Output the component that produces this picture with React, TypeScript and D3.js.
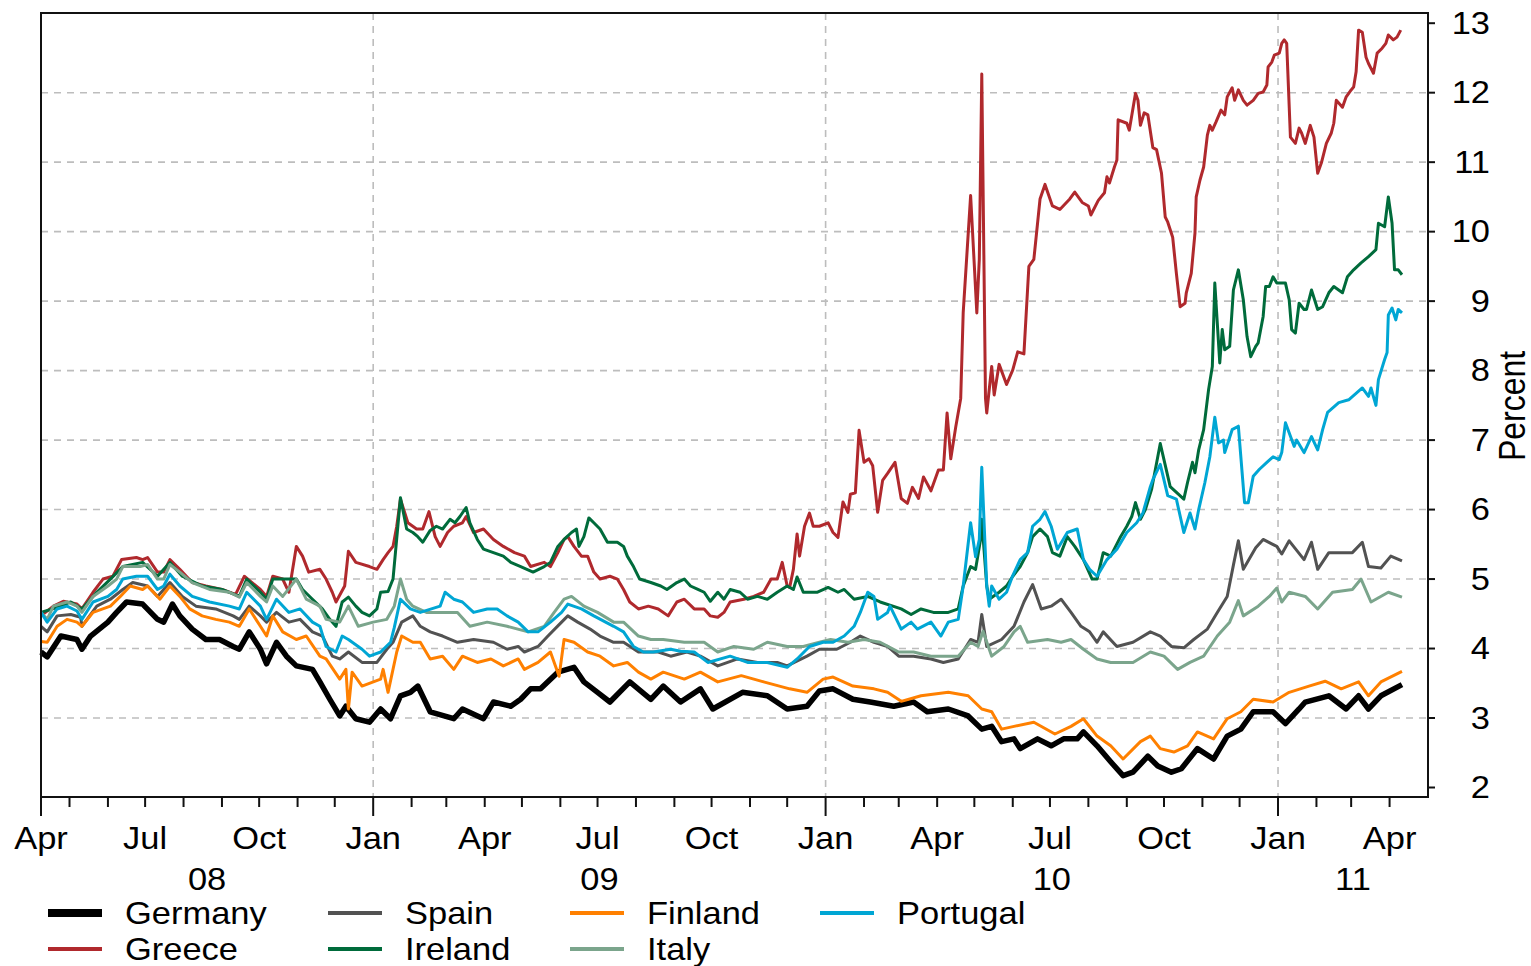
import React, { useEffect, useRef } from 'react';
import * as d3 from 'd3';

// 10-year government bond yields, percent
const germany: [string, number][] = [
  ['2008-04-08', 3.95], ['2008-04-13', 3.88], ['2008-04-24', 4.18], ['2008-05-07', 4.13], ['2008-05-11', 3.99],
  ['2008-05-18', 4.18], ['2008-06-01', 4.38], ['2008-06-08', 4.52], ['2008-06-16', 4.67], ['2008-06-29', 4.64],
  ['2008-07-11', 4.42], ['2008-07-16', 4.38], ['2008-07-23', 4.64], ['2008-07-29', 4.47], ['2008-08-08', 4.28],
  ['2008-08-19', 4.13], ['2008-08-30', 4.13], ['2008-09-10', 4.03], ['2008-09-15', 3.99], ['2008-09-23', 4.24],
  ['2008-10-02', 3.99], ['2008-10-07', 3.78], ['2008-10-15', 4.09], ['2008-10-23', 3.89], ['2008-10-31', 3.75],
  ['2008-11-13', 3.70], ['2008-11-19', 3.52], ['2008-11-27', 3.27], ['2008-12-05', 3.03], ['2008-12-10', 3.17],
  ['2008-12-18', 2.99], ['2008-12-29', 2.94], ['2009-01-07', 3.13], ['2009-01-15', 2.99], ['2009-01-23', 3.32],
  ['2009-01-31', 3.37], ['2009-02-06', 3.46], ['2009-02-16', 3.09], ['2009-03-07', 2.99], ['2009-03-14', 3.13],
  ['2009-03-31', 2.99], ['2009-04-08', 3.23], ['2009-04-22', 3.17], ['2009-04-30', 3.27], ['2009-05-08', 3.42],
  ['2009-05-16', 3.42], ['2009-05-30', 3.66], ['2009-06-12', 3.73], ['2009-06-20', 3.52], ['2009-07-01', 3.37],
  ['2009-07-11', 3.23], ['2009-07-27', 3.52], ['2009-08-13', 3.27], ['2009-08-23', 3.46], ['2009-09-06', 3.23],
  ['2009-09-22', 3.42], ['2009-10-02', 3.13], ['2009-10-26', 3.37], ['2009-11-15', 3.32], ['2009-12-01', 3.13],
  ['2009-12-17', 3.17], ['2009-12-27', 3.39], ['2010-01-07', 3.42], ['2010-01-23', 3.27], ['2010-02-06', 3.23],
  ['2010-02-25', 3.17], ['2010-03-13', 3.23], ['2010-03-24', 3.09], ['2010-04-10', 3.13], ['2010-04-26', 3.03],
  ['2010-05-07', 2.84], ['2010-05-15', 2.88], ['2010-05-23', 2.66], ['2010-06-02', 2.70], ['2010-06-07', 2.56],
  ['2010-06-21', 2.70], ['2010-07-02', 2.60], ['2010-07-12', 2.70], ['2010-07-23', 2.70], ['2010-07-28', 2.80],
  ['2010-08-08', 2.60], ['2010-08-19', 2.37], ['2010-08-29', 2.17], ['2010-09-06', 2.22], ['2010-09-18', 2.45],
  ['2010-09-26', 2.31], ['2010-10-07', 2.22], ['2010-10-15', 2.27], ['2010-10-28', 2.56], ['2010-11-10', 2.41],
  ['2010-11-21', 2.74], ['2010-12-02', 2.84], ['2010-12-12', 3.09], ['2010-12-28', 3.09], ['2011-01-07', 2.92],
  ['2011-01-18', 3.13], ['2011-01-23', 3.23], ['2011-02-11', 3.32], ['2011-02-25', 3.13], ['2011-03-07', 3.32],
  ['2011-03-15', 3.13], ['2011-03-25', 3.32], ['2011-04-11', 3.48],
];

const greece: [string, number][] = [
  ['2008-04-08', 4.47], ['2008-04-18', 4.61], ['2008-04-26', 4.68], ['2008-05-07', 4.64], ['2008-05-11', 4.57],
  ['2008-05-20', 4.81], ['2008-05-28', 5.00], ['2008-06-05', 5.04], ['2008-06-12', 5.28], ['2008-06-24', 5.31],
  ['2008-06-29', 5.28], ['2008-07-03', 5.31], ['2008-07-11', 5.10], ['2008-07-16', 5.10], ['2008-07-21', 5.28],
  ['2008-07-29', 5.14], ['2008-08-08', 4.95], ['2008-08-19', 4.90], ['2008-09-01', 4.85], ['2008-09-12', 4.78],
  ['2008-09-19', 5.04], ['2008-10-02', 4.85], ['2008-10-07', 4.75], ['2008-10-12', 5.04], ['2008-10-20', 5.00],
  ['2008-10-25', 4.81], ['2008-10-31', 5.47], ['2008-11-05', 5.33], ['2008-11-10', 5.10], ['2008-11-19', 5.14],
  ['2008-11-24', 5.00], ['2008-11-29', 4.81], ['2008-12-02', 4.67], ['2008-12-09', 4.90], ['2008-12-12', 5.40],
  ['2008-12-18', 5.24], ['2008-12-29', 5.18], ['2009-01-04', 5.14], ['2009-01-09', 5.28], ['2009-01-13', 5.38],
  ['2009-01-17', 5.47], ['2009-01-20', 5.76], ['2009-01-23', 6.15], ['2009-01-29', 5.81], ['2009-02-05', 5.72],
  ['2009-02-10', 5.72], ['2009-02-15', 5.97], ['2009-02-20', 5.61], ['2009-02-24', 5.47], ['2009-03-02', 5.67],
  ['2009-03-07', 5.76], ['2009-03-14', 5.81], ['2009-03-17', 5.90], ['2009-03-23', 5.67], ['2009-03-31', 5.72],
  ['2009-04-08', 5.57], ['2009-04-16', 5.47], ['2009-04-25', 5.38], ['2009-05-03', 5.33], ['2009-05-08', 5.18],
  ['2009-05-19', 5.24], ['2009-05-24', 5.18], ['2009-05-30', 5.38], ['2009-06-04', 5.57], ['2009-06-07', 5.61],
  ['2009-06-12', 5.47], ['2009-06-18', 5.33], ['2009-06-23', 5.33], ['2009-06-28', 5.10], ['2009-07-03', 5.00],
  ['2009-07-11', 5.04], ['2009-07-17', 5.00], ['2009-07-22', 4.85], ['2009-07-27', 4.67], ['2009-08-03', 4.57],
  ['2009-08-11', 4.61], ['2009-08-19', 4.57], ['2009-08-27', 4.47], ['2009-09-03', 4.67], ['2009-09-09', 4.71],
  ['2009-09-17', 4.57], ['2009-09-25', 4.57], ['2009-09-30', 4.47], ['2009-10-06', 4.45], ['2009-10-11', 4.52],
  ['2009-10-16', 4.67], ['2009-10-27', 4.71], ['2009-11-04', 4.75], ['2009-11-12', 4.81], ['2009-11-18', 5.00],
  ['2009-11-23', 5.00], ['2009-11-27', 5.24], ['2009-12-01', 4.90], ['2009-12-03', 4.88], ['2009-12-06', 5.14],
  ['2009-12-09', 5.65], ['2009-12-11', 5.33], ['2009-12-15', 5.76], ['2009-12-19', 5.95], ['2009-12-22', 5.76],
  ['2009-12-27', 5.76], ['2010-01-03', 5.81], ['2010-01-07', 5.67], ['2010-01-11', 5.60], ['2010-01-15', 6.11],
  ['2010-01-19', 5.96], ['2010-01-21', 6.22], ['2010-01-25', 6.24], ['2010-01-28', 7.14], ['2010-02-01', 6.68],
  ['2010-02-05', 6.73], ['2010-02-08', 6.63], ['2010-02-12', 5.96], ['2010-02-16', 6.42], ['2010-02-20', 6.52],
  ['2010-02-26', 6.68], ['2010-03-03', 6.16], ['2010-03-08', 6.09], ['2010-03-12', 6.32], ['2010-03-17', 6.16],
  ['2010-03-21', 6.47], ['2010-03-27', 6.27], ['2010-04-02', 6.57], ['2010-04-06', 6.57], ['2010-04-09', 7.39],
  ['2010-04-12', 6.73], ['2010-04-16', 7.19], ['2010-04-20', 7.60], ['2010-04-22', 8.83], ['2010-04-28', 10.52],
  ['2010-05-03', 8.83], ['2010-05-05', 9.60], ['2010-05-07', 12.27], ['2010-05-10', 7.60], ['2010-05-11', 7.39],
  ['2010-05-15', 8.06], ['2010-05-17', 7.65], ['2010-05-21', 8.09], ['2010-05-27', 7.80], ['2010-06-01', 8.01],
  ['2010-06-05', 8.27], ['2010-06-10', 8.24], ['2010-06-14', 9.50], ['2010-06-18', 9.60], ['2010-06-23', 10.47],
  ['2010-06-27', 10.68], ['2010-07-03', 10.37], ['2010-07-09', 10.32], ['2010-07-17', 10.47], ['2010-07-21', 10.57],
  ['2010-07-27', 10.42], ['2010-08-01', 10.37], ['2010-08-03', 10.24], ['2010-08-09', 10.45], ['2010-08-14', 10.56],
  ['2010-08-16', 10.79], ['2010-08-18', 10.70], ['2010-08-22', 10.93], ['2010-08-24', 11.03], ['2010-08-25', 11.61],
  ['2010-09-01', 11.56], ['2010-09-03', 11.46], ['2010-09-08', 11.99], ['2010-09-10', 11.89], ['2010-09-12', 11.53],
  ['2010-09-15', 11.71], ['2010-09-18', 11.68], ['2010-09-22', 11.21], ['2010-09-25', 11.18], ['2010-09-29', 10.84],
  ['2010-10-02', 10.21], ['2010-10-04', 10.14], ['2010-10-08', 9.92], ['2010-10-11', 9.40], ['2010-10-14', 8.92],
  ['2010-10-18', 8.97], ['2010-10-19', 9.12], ['2010-10-23', 9.40], ['2010-10-26', 9.98], ['2010-10-27', 10.50],
  ['2010-10-30', 10.74], ['2010-11-02', 10.93], ['2010-11-05', 11.39], ['2010-11-07', 11.53], ['2010-11-09', 11.46],
  ['2010-11-12', 11.58], ['2010-11-16', 11.75], ['2010-11-19', 11.68], ['2010-11-21', 11.94], ['2010-11-25', 12.07],
  ['2010-11-27', 11.89], ['2010-11-30', 12.04], ['2010-12-04', 11.89], ['2010-12-07', 11.82], ['2010-12-12', 11.89],
  ['2010-12-16', 11.99], ['2010-12-20', 12.01], ['2010-12-23', 12.11], ['2010-12-24', 12.37], ['2010-12-27', 12.44],
  ['2010-12-29', 12.54], ['2011-01-02', 12.57], ['2011-01-04', 12.71], ['2011-01-06', 12.76], ['2011-01-08', 12.71],
  ['2011-01-11', 11.36], ['2011-01-15', 11.27], ['2011-01-18', 11.49], ['2011-01-20', 11.42], ['2011-01-23', 11.27],
  ['2011-01-27', 11.53], ['2011-01-30', 11.36], ['2011-02-02', 10.84], ['2011-02-05', 10.99], ['2011-02-09', 11.27],
  ['2011-02-13', 11.42], ['2011-02-15', 11.56], ['2011-02-17', 11.89], ['2011-02-22', 11.79], ['2011-02-25', 11.94],
  ['2011-03-01', 12.04], ['2011-03-03', 12.08], ['2011-03-05', 12.30], ['2011-03-07', 12.90], ['2011-03-10', 12.87],
  ['2011-03-13', 12.51], ['2011-03-15', 12.42], ['2011-03-19', 12.28], ['2011-03-22', 12.57], ['2011-03-26', 12.64],
  ['2011-03-29', 12.71], ['2011-03-31', 12.83], ['2011-04-04', 12.76], ['2011-04-07', 12.80], ['2011-04-10', 12.90],
];

const spain: [string, number][] = [
  ['2008-04-08', 4.32], ['2008-04-13', 4.24], ['2008-04-21', 4.47], ['2008-05-02', 4.49], ['2008-05-10', 4.45],
  ['2008-05-11', 4.32], ['2008-05-23', 4.61], ['2008-06-03', 4.71], ['2008-06-13', 4.85], ['2008-06-21', 4.95],
  ['2008-07-03', 4.90], ['2008-07-11', 4.75], ['2008-07-21', 4.95], ['2008-07-31', 4.75], ['2008-08-11', 4.61],
  ['2008-08-27', 4.57], ['2008-09-10', 4.47], ['2008-09-15', 4.42], ['2008-09-23', 4.61], ['2008-10-02', 4.47],
  ['2008-10-07', 4.38], ['2008-10-15', 4.52], ['2008-10-25', 4.38], ['2008-11-03', 4.42], ['2008-11-13', 4.24],
  ['2008-11-21', 4.18], ['2008-11-29', 3.89], ['2008-12-05', 3.85], ['2008-12-12', 3.95], ['2008-12-23', 3.80],
  ['2009-01-04', 3.80], ['2009-01-12', 3.99], ['2009-01-17', 4.09], ['2009-01-24', 4.38], ['2009-02-02', 4.47],
  ['2009-02-08', 4.32], ['2009-02-16', 4.24], ['2009-02-26', 4.18], ['2009-03-10', 4.09], ['2009-03-23', 4.13],
  ['2009-04-08', 4.09], ['2009-04-19', 3.99], ['2009-04-28', 4.03], ['2009-05-03', 3.95], ['2009-05-14', 4.03],
  ['2009-05-22', 4.18], ['2009-06-02', 4.38], ['2009-06-07', 4.47], ['2009-06-15', 4.38], ['2009-06-25', 4.28],
  ['2009-07-03', 4.18], ['2009-07-14', 4.09], ['2009-07-22', 4.09], ['2009-08-03', 3.95], ['2009-08-19', 3.95],
  ['2009-08-29', 3.89], ['2009-09-11', 3.95], ['2009-09-22', 3.89], ['2009-10-06', 3.75], ['2009-10-22', 3.85],
  ['2009-11-07', 3.80], ['2009-11-23', 3.80], ['2009-12-01', 3.75], ['2009-12-17', 3.89], ['2009-12-27', 3.99],
  ['2010-01-10', 3.99], ['2010-01-21', 4.09], ['2010-01-29', 4.18], ['2010-02-09', 4.09], ['2010-02-20', 4.03],
  ['2010-03-01', 3.89], ['2010-03-13', 3.89], ['2010-03-27', 3.85], ['2010-04-06', 3.80], ['2010-04-18', 3.85],
  ['2010-04-28', 4.13], ['2010-05-04', 4.09], ['2010-05-07', 4.49], ['2010-05-11', 4.03], ['2010-05-23', 4.13],
  ['2010-06-02', 4.32], ['2010-06-10', 4.67], ['2010-06-17', 4.92], ['2010-06-24', 4.57], ['2010-07-02', 4.61],
  ['2010-07-10', 4.71], ['2010-07-18', 4.52], ['2010-07-26', 4.32], ['2010-08-02', 4.24], ['2010-08-08', 4.09],
  ['2010-08-13', 4.24], ['2010-08-24', 4.03], ['2010-09-06', 4.09], ['2010-09-20', 4.24], ['2010-09-28', 4.18],
  ['2010-10-07', 4.03], ['2010-10-17', 4.01], ['2010-10-25', 4.13], ['2010-11-05', 4.28], ['2010-11-13', 4.52],
  ['2010-11-21', 4.75], ['2010-11-26', 5.20], ['2010-11-30', 5.55], ['2010-12-04', 5.14], ['2010-12-14', 5.45],
  ['2010-12-20', 5.57], ['2010-12-31', 5.47], ['2011-01-04', 5.36], ['2011-01-10', 5.55], ['2011-01-22', 5.28],
  ['2011-01-28', 5.53], ['2011-02-02', 5.14], ['2011-02-11', 5.38], ['2011-03-02', 5.38], ['2011-03-10', 5.53],
  ['2011-03-15', 5.18], ['2011-03-25', 5.16], ['2011-04-02', 5.33], ['2011-04-11', 5.26],
];

const ireland: [string, number][] = [
  ['2008-04-08', 4.52], ['2008-04-21', 4.59], ['2008-05-02', 4.67], ['2008-05-11', 4.57], ['2008-05-23', 4.81],
  ['2008-06-03', 5.00], ['2008-06-13', 5.18], ['2008-06-29', 5.24], ['2008-07-11', 5.04], ['2008-07-21', 5.24],
  ['2008-07-31', 5.04], ['2008-08-16', 4.90], ['2008-09-01', 4.85], ['2008-09-15', 4.75], ['2008-09-21', 5.00],
  ['2008-10-02', 4.81], ['2008-10-07', 4.71], ['2008-10-12', 5.00], ['2008-10-31', 5.00], ['2008-11-05', 4.85],
  ['2008-11-13', 4.71], ['2008-11-21', 4.57], ['2008-11-27', 4.42], ['2008-12-02', 4.32], ['2008-12-07', 4.67],
  ['2008-12-12', 4.74], ['2008-12-18', 4.61], ['2008-12-23', 4.52], ['2008-12-29', 4.47], ['2009-01-04', 4.57],
  ['2009-01-07', 4.81], ['2009-01-13', 4.82], ['2009-01-17', 5.00], ['2009-01-23', 6.17], ['2009-01-28', 5.72],
  ['2009-02-02', 5.67], ['2009-02-06', 5.61], ['2009-02-10', 5.53], ['2009-02-16', 5.70], ['2009-02-21', 5.76],
  ['2009-02-26', 5.72], ['2009-03-04', 5.86], ['2009-03-08', 5.81], ['2009-03-12', 5.90], ['2009-03-17', 6.03],
  ['2009-03-20', 5.81], ['2009-03-26', 5.57], ['2009-03-31', 5.43], ['2009-04-08', 5.38], ['2009-04-16', 5.33],
  ['2009-04-22', 5.24], ['2009-04-30', 5.18], ['2009-05-10', 5.10], ['2009-05-19', 5.18], ['2009-05-24', 5.24],
  ['2009-05-30', 5.47], ['2009-06-04', 5.57], ['2009-06-10', 5.67], ['2009-06-14', 5.72], ['2009-06-16', 5.47],
  ['2009-06-20', 5.61], ['2009-06-24', 5.88], ['2009-06-28', 5.81], ['2009-07-03', 5.72], ['2009-07-09', 5.53],
  ['2009-07-17', 5.53], ['2009-07-22', 5.47], ['2009-07-25', 5.33], ['2009-07-30', 5.18], ['2009-08-04', 5.00],
  ['2009-08-13', 4.95], ['2009-08-21', 4.90], ['2009-08-26', 4.85], ['2009-09-03', 4.95], ['2009-09-09', 5.00],
  ['2009-09-14', 4.90], ['2009-09-20', 4.85], ['2009-09-25', 4.81], ['2009-09-30', 4.68], ['2009-10-06', 4.81],
  ['2009-10-11', 4.71], ['2009-10-16', 4.85], ['2009-10-24', 4.81], ['2009-10-30', 4.71], ['2009-11-07', 4.75],
  ['2009-11-15', 4.71], ['2009-11-23', 4.81], ['2009-12-01', 4.90], ['2009-12-06', 4.85], ['2009-12-09', 5.03],
  ['2009-12-14', 4.81], ['2009-12-25', 4.81], ['2010-01-03', 4.88], ['2010-01-11', 4.81], ['2010-01-16', 4.85],
  ['2010-01-24', 4.71], ['2010-02-04', 4.75], ['2010-02-14', 4.67], ['2010-03-03', 4.57], ['2010-03-11', 4.49],
  ['2010-03-19', 4.57], ['2010-03-29', 4.52], ['2010-04-10', 4.52], ['2010-04-18', 4.57], ['2010-04-22', 4.90],
  ['2010-04-28', 5.18], ['2010-05-02', 5.14], ['2010-05-06', 5.57], ['2010-05-07', 5.86], ['2010-05-11', 4.90],
  ['2010-05-13', 4.71], ['2010-05-21', 4.81], ['2010-05-27', 4.90], ['2010-06-01', 5.04], ['2010-06-07', 5.18],
  ['2010-06-13', 5.38], ['2010-06-17', 5.61], ['2010-06-23', 5.72], ['2010-06-29', 5.61], ['2010-07-03', 5.38],
  ['2010-07-09', 5.33], ['2010-07-15', 5.61], ['2010-07-21', 5.47], ['2010-07-28', 5.28], ['2010-08-04', 5.00],
  ['2010-08-08', 5.00], ['2010-08-13', 5.38], ['2010-08-19', 5.33], ['2010-08-27', 5.61], ['2010-09-01', 5.76],
  ['2010-09-05', 5.90], ['2010-09-08', 6.10], ['2010-09-12', 5.86], ['2010-09-16', 6.00], ['2010-09-21', 6.29],
  ['2010-09-28', 6.95], ['2010-10-06', 6.33], ['2010-10-17', 6.15], ['2010-10-20', 6.39], ['2010-10-24', 6.68],
  ['2010-10-26', 6.53], ['2010-10-29', 6.86], ['2010-11-02', 7.15], ['2010-11-06', 7.73], ['2010-11-09', 8.06],
  ['2010-11-11', 9.26], ['2010-11-15', 8.11], ['2010-11-17', 8.59], ['2010-11-19', 8.30], ['2010-11-23', 8.35],
  ['2010-11-26', 9.16], ['2010-11-30', 9.45], ['2010-12-04', 9.02], ['2010-12-07', 8.49], ['2010-12-10', 8.20],
  ['2010-12-14', 8.35], ['2010-12-16', 8.40], ['2010-12-20', 8.78], ['2010-12-22', 9.21], ['2010-12-25', 9.21],
  ['2010-12-28', 9.35], ['2010-12-31', 9.26], ['2011-01-07', 9.26], ['2011-01-10', 9.02], ['2011-01-12', 8.59],
  ['2011-01-15', 8.54], ['2011-01-18', 8.97], ['2011-01-22', 8.88], ['2011-01-24', 8.88], ['2011-01-28', 9.16],
  ['2011-02-02', 8.88], ['2011-02-06', 8.92], ['2011-02-11', 9.12], ['2011-02-15', 9.21], ['2011-02-22', 9.12],
  ['2011-02-26', 9.35], ['2011-03-03', 9.45], ['2011-03-09', 9.55], ['2011-03-15', 9.64], ['2011-03-21', 9.74],
  ['2011-03-23', 10.12], ['2011-03-28', 10.07], ['2011-03-31', 10.50], ['2011-04-03', 10.12], ['2011-04-05', 9.45],
  ['2011-04-08', 9.45], ['2011-04-11', 9.38],
];

const finland: [string, number][] = [
  ['2008-04-08', 4.10], ['2008-04-13', 4.09], ['2008-04-21', 4.32], ['2008-04-29', 4.42], ['2008-05-07', 4.38],
  ['2008-05-11', 4.32], ['2008-05-20', 4.52], ['2008-06-03', 4.61], ['2008-06-11', 4.75], ['2008-06-19', 4.90],
  ['2008-06-29', 4.85], ['2008-07-03', 4.90], ['2008-07-13', 4.71], ['2008-07-21', 4.90], ['2008-07-29', 4.75],
  ['2008-08-06', 4.57], ['2008-08-16', 4.47], ['2008-08-27', 4.42], ['2008-09-07', 4.38], ['2008-09-15', 4.32],
  ['2008-09-23', 4.57], ['2008-10-02', 4.32], ['2008-10-07', 4.18], ['2008-10-12', 4.47], ['2008-10-20', 4.24],
  ['2008-10-31', 4.13], ['2008-11-08', 4.18], ['2008-11-19', 3.89], ['2008-11-24', 3.85], ['2008-12-05', 3.56],
  ['2008-12-10', 3.70], ['2008-12-12', 3.13], ['2008-12-15', 3.66], ['2008-12-23', 3.46], ['2009-01-07', 3.56],
  ['2009-01-09', 3.70], ['2009-01-13', 3.37], ['2009-01-20', 3.95], ['2009-01-24', 4.18], ['2009-02-02', 4.09],
  ['2009-02-08', 4.09], ['2009-02-16', 3.85], ['2009-02-26', 3.89], ['2009-03-07', 3.70], ['2009-03-14', 3.89],
  ['2009-03-26', 3.80], ['2009-04-06', 3.85], ['2009-04-16', 3.75], ['2009-04-28', 3.85], ['2009-05-03', 3.70],
  ['2009-05-14', 3.80], ['2009-05-24', 3.95], ['2009-05-31', 3.60], ['2009-06-04', 4.13], ['2009-06-12', 4.09],
  ['2009-06-23', 3.95], ['2009-07-03', 3.89], ['2009-07-14', 3.75], ['2009-07-25', 3.80], ['2009-08-03', 3.66],
  ['2009-08-13', 3.56], ['2009-08-23', 3.66], ['2009-09-09', 3.56], ['2009-09-22', 3.66], ['2009-10-06', 3.52],
  ['2009-10-25', 3.61], ['2009-11-12', 3.52], ['2009-12-03', 3.42], ['2009-12-17', 3.37], ['2009-12-30', 3.56],
  ['2010-01-07', 3.59], ['2010-01-23', 3.46], ['2010-02-09', 3.42], ['2010-02-20', 3.37], ['2010-03-03', 3.24],
  ['2010-03-19', 3.32], ['2010-04-10', 3.37], ['2010-04-26', 3.32], ['2010-05-07', 3.13], ['2010-05-15', 3.09],
  ['2010-05-23', 2.84], ['2010-06-02', 2.88], ['2010-06-18', 2.94], ['2010-07-05', 2.77], ['2010-07-18', 2.88],
  ['2010-07-28', 2.99], ['2010-08-08', 2.74], ['2010-08-19', 2.60], ['2010-08-29', 2.41], ['2010-09-12', 2.66],
  ['2010-09-20', 2.74], ['2010-09-28', 2.56], ['2010-10-09', 2.51], ['2010-10-20', 2.60], ['2010-10-28', 2.80],
  ['2010-11-10', 2.70], ['2010-11-21', 2.99], ['2010-12-02', 3.09], ['2010-12-12', 3.27], ['2010-12-28', 3.23],
  ['2011-01-10', 3.37], ['2011-01-26', 3.46], ['2011-02-08', 3.53], ['2011-02-21', 3.42], ['2011-03-07', 3.52],
  ['2011-03-15', 3.32], ['2011-03-25', 3.52], ['2011-04-11', 3.67],
];

const italy: [string, number][] = [
  ['2008-04-08', 4.52], ['2008-04-13', 4.42], ['2008-04-18', 4.61], ['2008-04-29', 4.67], ['2008-05-07', 4.61],
  ['2008-05-11', 4.52], ['2008-05-20', 4.75], ['2008-06-01', 4.90], ['2008-06-08', 5.00], ['2008-06-13', 5.18],
  ['2008-06-27', 5.18], ['2008-07-03', 5.21], ['2008-07-11', 5.00], ['2008-07-16', 5.00], ['2008-07-21', 5.21],
  ['2008-07-29', 5.10], ['2008-08-08', 4.95], ['2008-08-22', 4.85], ['2008-09-07', 4.81], ['2008-09-15', 4.74],
  ['2008-09-21', 4.95], ['2008-10-02', 4.75], ['2008-10-07', 4.67], ['2008-10-12', 4.90], ['2008-10-20', 4.75],
  ['2008-10-31', 5.00], ['2008-11-08', 4.71], ['2008-11-19', 4.61], ['2008-11-24', 4.42], ['2008-12-05', 4.38],
  ['2008-12-12', 4.61], ['2008-12-20', 4.32], ['2009-01-01', 4.38], ['2009-01-12', 4.42], ['2009-01-18', 4.61],
  ['2009-01-23', 5.00], ['2009-01-28', 4.71], ['2009-02-02', 4.61], ['2009-02-13', 4.52], ['2009-03-10', 4.52],
  ['2009-03-20', 4.32], ['2009-04-03', 4.38], ['2009-04-19', 4.32], ['2009-05-06', 4.24], ['2009-05-19', 4.32],
  ['2009-05-27', 4.52], ['2009-06-04', 4.71], ['2009-06-10', 4.75], ['2009-06-20', 4.61], ['2009-07-01', 4.52],
  ['2009-07-14', 4.38], ['2009-07-22', 4.38], ['2009-08-03', 4.18], ['2009-08-13', 4.13], ['2009-08-23', 4.13],
  ['2009-09-09', 4.09], ['2009-09-25', 4.09], ['2009-10-06', 3.95], ['2009-10-19', 4.03], ['2009-11-04', 3.99],
  ['2009-11-15', 4.09], ['2009-12-01', 4.03], ['2009-12-14', 4.03], ['2009-12-27', 4.09], ['2010-01-05', 4.13],
  ['2010-01-19', 4.09], ['2010-02-01', 4.13], ['2010-02-14', 4.09], ['2010-03-01', 3.95], ['2010-03-13', 3.95],
  ['2010-03-27', 3.89], ['2010-04-18', 3.89], ['2010-04-28', 4.09], ['2010-05-04', 4.03], ['2010-05-08', 4.25],
  ['2010-05-15', 3.89], ['2010-05-25', 4.03], ['2010-06-02', 4.24], ['2010-06-07', 4.32], ['2010-06-13', 4.09],
  ['2010-06-29', 4.13], ['2010-07-10', 4.09], ['2010-07-18', 4.13], ['2010-07-28', 3.99], ['2010-08-08', 3.85],
  ['2010-08-19', 3.80], ['2010-09-06', 3.80], ['2010-09-20', 3.95], ['2010-10-01', 3.89], ['2010-10-12', 3.70],
  ['2010-10-22', 3.80], ['2010-11-02', 3.89], ['2010-11-13', 4.18], ['2010-11-23', 4.38], ['2010-11-30', 4.69],
  ['2010-12-04', 4.47], ['2010-12-16', 4.61], ['2010-12-25', 4.75], ['2010-12-31', 4.87], ['2011-01-04', 4.67],
  ['2011-01-10', 4.81], ['2011-01-23', 4.75], ['2011-02-02', 4.57], ['2011-02-14', 4.81], ['2011-03-02', 4.85],
  ['2011-03-09', 5.00], ['2011-03-17', 4.67], ['2011-03-31', 4.81], ['2011-04-11', 4.74],
];

const portugal: [string, number][] = [
  ['2008-04-08', 4.52], ['2008-04-13', 4.38], ['2008-04-21', 4.57], ['2008-04-29', 4.61], ['2008-05-07', 4.54],
  ['2008-05-11', 4.42], ['2008-05-20', 4.67], ['2008-06-01', 4.75], ['2008-06-08', 4.85], ['2008-06-13', 5.00],
  ['2008-06-24', 5.04], ['2008-07-03', 5.04], ['2008-07-11', 4.85], ['2008-07-16', 4.90], ['2008-07-21', 5.07],
  ['2008-07-29', 4.90], ['2008-08-08', 4.75], ['2008-08-22', 4.67], ['2008-09-07', 4.61], ['2008-09-15', 4.57],
  ['2008-09-21', 4.81], ['2008-10-02', 4.61], ['2008-10-07', 4.42], ['2008-10-15', 4.71], ['2008-10-25', 4.52],
  ['2008-11-03', 4.57], ['2008-11-13', 4.38], ['2008-11-19', 4.32], ['2008-11-24', 4.03], ['2008-12-02', 3.95],
  ['2008-12-07', 4.18], ['2008-12-12', 4.13], ['2008-12-23', 3.99], ['2008-12-29', 3.89], ['2009-01-07', 3.95],
  ['2009-01-15', 4.09], ['2009-01-18', 4.30], ['2009-01-23', 4.71], ['2009-01-31', 4.57], ['2009-02-08', 4.52],
  ['2009-02-24', 4.61], ['2009-02-28', 4.81], ['2009-03-07', 4.71], ['2009-03-14', 4.67], ['2009-03-23', 4.52],
  ['2009-04-03', 4.57], ['2009-04-11', 4.57], ['2009-04-19', 4.47], ['2009-04-28', 4.38], ['2009-05-06', 4.24],
  ['2009-05-14', 4.24], ['2009-05-24', 4.38], ['2009-06-02', 4.52], ['2009-06-07', 4.64], ['2009-06-18', 4.57],
  ['2009-06-28', 4.47], ['2009-07-14', 4.32], ['2009-07-22', 4.24], ['2009-07-30', 4.03], ['2009-08-07', 3.95],
  ['2009-08-15', 3.95], ['2009-08-29', 3.99], ['2009-09-06', 3.96], ['2009-09-17', 3.95], ['2009-09-28', 3.80],
  ['2009-10-16', 3.89], ['2009-10-30', 3.80], ['2009-11-15', 3.80], ['2009-12-01', 3.73], ['2009-12-09', 3.85],
  ['2009-12-19', 4.03], ['2009-12-30', 4.09], ['2010-01-07', 4.09], ['2010-01-16', 4.18], ['2010-01-24', 4.32],
  ['2010-01-29', 4.52], ['2010-02-04', 4.81], ['2010-02-09', 4.75], ['2010-02-12', 4.42], ['2010-02-20', 4.52],
  ['2010-02-22', 4.61], ['2010-03-03', 4.28], ['2010-03-11', 4.38], ['2010-03-16', 4.28], ['2010-03-27', 4.38],
  ['2010-04-04', 4.18], ['2010-04-10', 4.38], ['2010-04-18', 4.42], ['2010-04-22', 4.90], ['2010-04-28', 5.81],
  ['2010-05-02', 5.32], ['2010-05-05', 5.57], ['2010-05-07', 6.61], ['2010-05-11', 4.90], ['2010-05-13', 4.61],
  ['2010-05-15', 4.90], ['2010-05-21', 4.71], ['2010-05-27', 4.81], ['2010-06-01', 5.05], ['2010-06-07', 5.28],
  ['2010-06-13', 5.38], ['2010-06-17', 5.76], ['2010-06-23', 5.86], ['2010-06-27', 5.97], ['2010-07-02', 5.76],
  ['2010-07-07', 5.43], ['2010-07-15', 5.67], ['2010-07-23', 5.72], ['2010-07-28', 5.28], ['2010-08-02', 5.14],
  ['2010-08-08', 5.04], ['2010-08-16', 5.28], ['2010-08-24', 5.43], ['2010-09-01', 5.67], ['2010-09-09', 5.81],
  ['2010-09-14', 5.95], ['2010-09-20', 6.33], ['2010-09-22', 6.43], ['2010-09-28', 6.65], ['2010-10-04', 6.20],
  ['2010-10-11', 6.15], ['2010-10-17', 5.67], ['2010-10-22', 5.95], ['2010-10-26', 5.72], ['2010-10-29', 6.00],
  ['2010-11-03', 6.39], ['2010-11-07', 6.76], ['2010-11-11', 7.33], ['2010-11-14', 6.96], ['2010-11-18', 7.00],
  ['2010-11-19', 6.82], ['2010-11-25', 7.15], ['2010-11-30', 7.20], ['2010-12-05', 6.10], ['2010-12-08', 6.10],
  ['2010-12-12', 6.48], ['2010-12-17', 6.58], ['2010-12-23', 6.68], ['2010-12-28', 6.76], ['2011-01-02', 6.72],
  ['2011-01-04', 6.82], ['2011-01-07', 7.25], ['2011-01-14', 6.91], ['2011-01-16', 7.00], ['2011-01-22', 6.82],
  ['2011-01-28', 7.05], ['2011-02-02', 6.86], ['2011-02-06', 7.15], ['2011-02-10', 7.40], ['2011-02-19', 7.54],
  ['2011-02-27', 7.58], ['2011-03-10', 7.75], ['2011-03-15', 7.63], ['2011-03-17', 7.75], ['2011-03-21', 7.50],
  ['2011-03-23', 7.87], ['2011-03-28', 8.16], ['2011-03-30', 8.26], ['2011-03-31', 8.80], ['2011-04-03', 8.90],
  ['2011-04-06', 8.73], ['2011-04-08', 8.88], ['2011-04-11', 8.83],
];

const yTicks = [2, 3, 4, 5, 6, 7, 8, 9, 10, 11, 12, 13];
const gridValues = [3, 4, 5, 6, 7, 8, 9, 10, 11, 12];
const years = [2008, 2009, 2010, 2011];

const seriesList = [
  { name: 'Germany', data: germany, color: '#000000', width: 5.5 },
  { name: 'Greece', data: greece, color: '#b0292d', width: 3 },
  { name: 'Spain', data: spain, color: '#525252', width: 3 },
  { name: 'Ireland', data: ireland, color: '#006b3b', width: 3 },
  { name: 'Finland', data: finland, color: '#ff8000', width: 3 },
  { name: 'Italy', data: italy, color: '#7ba58c', width: 3 },
  { name: 'Portugal', data: portugal, color: '#00a6d4', width: 3 },
];

const parseDate = d3.timeParse('%Y-%m-%d');

const App = () => {
  const ref = useRef<SVGSVGElement>(null);

  useEffect(() => {
    drawChart();
  }, []);

  const drawChart = () => {
    const svg = d3.select(ref.current);
    svg.selectAll('*').remove();

    const left = 41, right = 1428, top = 13, bottom = 797;
    const font = "'Liberation Sans', Arial, Helvetica, sans-serif";
    const fs = 30.5;
    const stretch = 'scale(1.13,1)';

    const start = parseDate('2008-04-08') as Date;
    const end = parseDate('2011-05-02') as Date;
    const x = d3.scaleTime().domain([start, end]).range([left, right]);
    const y = d3.scaleLinear().domain([2, 13]).range([787.5, 23.2]);

    // grid
    svg.append('g')
      .selectAll('line')
      .data(gridValues)
      .join('line')
      .attr('x1', left).attr('x2', right)
      .attr('y1', d => y(d)).attr('y2', d => y(d))
      .attr('stroke', '#bdbdbd').attr('stroke-width', 1.6).attr('stroke-dasharray', '7,6');

    const jans = d3.timeYear.range(start, end);
    svg.append('g')
      .selectAll('line')
      .data(jans)
      .join('line')
      .attr('x1', d => x(d)).attr('x2', d => x(d))
      .attr('y1', top).attr('y2', bottom)
      .attr('stroke', '#bdbdbd').attr('stroke-width', 1.6).attr('stroke-dasharray', '7,6');

    // lines
    const line = d3.line<[Date, number]>()
      .x(d => x(d[0]))
      .y(d => y(d[1]));

    seriesList.forEach(s => {
      const pts = s.data.map(d => [parseDate(d[0]) as Date, d[1]] as [Date, number]);
      svg.append('path')
        .datum(pts)
        .attr('d', line)
        .attr('fill', 'none')
        .attr('stroke', s.color)
        .attr('stroke-width', s.width)
        .attr('stroke-linejoin', 'round');
    });

    // frame
    svg.append('rect')
      .attr('x', left).attr('y', top)
      .attr('width', right - left).attr('height', bottom - top)
      .attr('fill', 'none').attr('stroke', '#111').attr('stroke-width', 2);

    // x ticks
    const months = d3.timeMonth.range(start, end).filter(d => x(d) < right - 5);
    svg.append('g')
      .selectAll('line')
      .data(months)
      .join('line')
      .attr('x1', d => x(d)).attr('x2', d => x(d))
      .attr('y1', bottom)
      .attr('y2', d => bottom + (d.getMonth() === 0 ? 19 : 10))
      .attr('stroke', '#111').attr('stroke-width', 2);
    svg.append('line')
      .attr('x1', left).attr('x2', left).attr('y1', bottom).attr('y2', bottom + 19)
      .attr('stroke', '#111').attr('stroke-width', 2);

    const fmt = d3.timeFormat('%b');
    const quarterTicks = [start, ...months.filter(d => d.getMonth() % 3 === 0)];
    svg.append('g')
      .selectAll('text')
      .data(quarterTicks)
      .join('text')
      .attr('transform', d => `translate(${x(d)},849) ${stretch}`)
      .attr('text-anchor', 'middle')
      .attr('font-family', font).attr('font-size', fs)
      .text(d => fmt(d));

    svg.append('g')
      .selectAll('text')
      .data(years)
      .join('text')
      .attr('transform', yr => {
        const a = Math.max(x(new Date(yr, 0, 1)), left);
        const b = Math.min(x(new Date(yr + 1, 0, 1)), right);
        return `translate(${(a + b) / 2},890) ${stretch}`;
      })
      .attr('text-anchor', 'middle')
      .attr('font-family', font).attr('font-size', fs)
      .text(yr => String(yr).slice(2));

    // y axis on the right
    svg.append('g')
      .selectAll('line')
      .data(yTicks)
      .join('line')
      .attr('x1', right).attr('x2', right + 7)
      .attr('y1', d => y(d)).attr('y2', d => y(d))
      .attr('stroke', '#111').attr('stroke-width', 2);
    svg.append('g')
      .selectAll('text')
      .data(yTicks)
      .join('text')
      .attr('transform', d => `translate(1490,${y(d) + 10.5}) ${stretch}`)
      .attr('text-anchor', 'end')
      .attr('font-family', font).attr('font-size', fs)
      .text(d => String(d));

    svg.append('text')
      .attr('transform', 'translate(1525,406) rotate(-90) scale(1,1.13)')
      .attr('text-anchor', 'middle')
      .attr('font-family', font).attr('font-size', 32)
      .text('Percent');

    // legend, filled column by column
    const colX = [48, 328, 570, 820];
    const rowY = [913, 949];
    seriesList.forEach((s, i) => {
      const cx = colX[Math.floor(i / 2)];
      const cy = rowY[i % 2];
      svg.append('line')
        .attr('x1', cx).attr('x2', cx + 54)
        .attr('y1', cy).attr('y2', cy)
        .attr('stroke', s.color)
        .attr('stroke-width', s.name === 'Germany' ? 8 : 4);
      svg.append('text')
        .attr('transform', `translate(${cx + 77},${cy + 10.5}) ${stretch}`)
        .attr('font-family', font).attr('font-size', fs)
        .text(s.name);
    });
  };

  return (
    <svg ref={ref} width="1531" height="966"
      style={{ position: 'absolute', left: 0, top: 0, background: '#fff' }} />
  );
};

export default App;
